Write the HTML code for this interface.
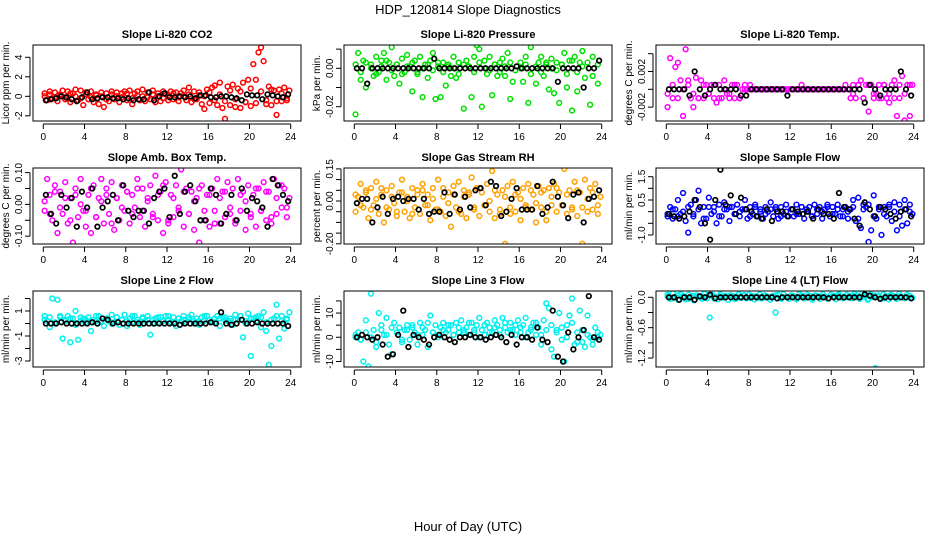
<!DOCTYPE html>
<html><head><meta charset="utf-8"><style>
html,body{margin:0;padding:0;background:#fff;}
svg{display:block;font-family:"Liberation Sans",sans-serif;}
</style></head><body>
<svg id="chart" width="936" height="540" viewBox="0 0 936 540" xmlns="http://www.w3.org/2000/svg">
<rect x="0" y="0" width="936" height="540" fill="#fff"/>
<text x="468" y="14" text-anchor="middle" font-size="13">HDP_120814  Slope Diagnostics</text>
<text x="468" y="531" text-anchor="middle" font-size="13">Hour of Day (UTC)</text>
</svg>
<script>
const xTicks = [0,4,8,12,16,20,24];
const titles = ["Slope Li-820 CO2","Slope Li-820 Pressure","Slope Li-820 Temp.","Slope Amb. Box Temp.","Slope Gas Stream RH","Slope Sample Flow","Slope Line 2 Flow","Slope Line 3 Flow","Slope Line 4 (LT) Flow"];
const yTitles = ["Licor ppm per min.","kPa per min.","degrees C per min.","degrees C per min.","percent per min.","ml/min per min.","ml/min per min.","ml/min per min.","ml/min per min."];
const yTickVals = [[-2,0,2,4],[-0.02,-0.01,0,0.01],[-0.002,0,0.002,0.004],[-0.1,-0.05,0,0.05,0.1],[-0.2,-0.15,-0.1,-0.05,0,0.05,0.1,0.15],[-1,-0.5,0,0.5,1,1.5],[-3,-2,-1,0,1,2],[-10,-5,0,5,10,15],[-1.2,-0.9,-0.6,-0.3,0]];
const yTickLabels = [["-2","0","2","4"],["-0.02","","0.00",""],["-0.002","","0.002",""],["-0.10","","0.00","","0.10"],["-0.20","","","","0.00","","","0.15"],["-1.0","","","0.5","","1.5"],["-3","","-1","","1",""],["-10","","0","","10",""],["-1.2","","-0.6","","0.0"]];

const co2Col = [0.3,-0.4,0.5,-0.2,0.4,-0.5,0.2,0.6,-0.3,0.5,-0.6,0.3,0.7,-0.4,0.6,-0.9,0.4,-0.3,0.5,-0.6,0.2,-0.8,0.4,-1.1,0.3,-0.5,0.5,-0.3,0.4,-0.6,0.3,0.5,-0.4,0.6,-0.8,0.3,0.5,-0.4,0.7,-0.5,0.4,-0.3,0.6,-0.6,0.3,-0.5,0.5,0.3,-0.4,0.5,-0.3,0.4,-0.5,0.3,0.6,-0.4,0.9,-0.6,0.5,-0.3,0.4,-0.8,-1.3,0.7,-0.7,0.9,1.1,-0.9,1.4,-1.2,-2.3,1.0,-0.9,1.2,-1.1,0.8,-1.2,1.4,-0.6,1.7,-1.0,3.3,1.7,4.5,5.0,3.6,-0.8,1.0,-0.9,0.6,-1.9,0.7,-0.5,0.9,-0.4,0.6];
const co2Band = [0,0.2,-0.2,0.1,-0.1,0.3,0,-0.2,0.2,-0.1,0.1,0,-0.3,0.2,0,-0.1,0.3,-0.2,0.1,0,-0.1,0.2,0,-0.2,0.1,0.3,-0.1,0,0.2,-0.3,0.1,0,0.4,-0.4,0.2,-0.5,0.6,-0.3,0.5,-0.6,0.8,-0.7,0.5,-0.4,0.7,-0.5,0.3,-0.2];
const co2Blk = [-0.4,-0.3,-0.2,0,-0.1,-0.3,-0.5,-0.1,0.4,-0.3,-0.2,-0.1,-0.1,-0.2,-0.2,-0.3,-0.2,-0.4,-0.3,-0.3,0.4,-0.4,0,0.3,-0.1,-0.1,0,-0.1,0,-0.2,0.1,0.1,-0.1,-0.1,0,0,-0.1,-0.2,-0.4,0.2,0.1,0.1,-0.3,0.2,0.1,0,-0.1,0.2];
const presCol = [-.024,.008,-.006,.004,-.01,.018,.002,-.004,.006,-.002,.004,.008,-.006,.003,.011,-.004,.002,-.008,.005,-.002,.007,.001,-.012,.004,-.003,.006,-.015,.002,-.005,.004,.008,-.016,.001,-.015,.003,-.009,.002,-.004,.006,-.005,.003,.014,-.021,.004,.001,-.015,.006,.012,.01,-.02,.004,-.003,.006,-.014,.002,-.004,.003,.005,-.004,.008,-.016,-.007,.019,-.04,.003,-.007,.006,-.018,.011,.019,-.008,.003,.006,-.004,.002,-.011,.005,-.013,.003,-.018,.002,.008,-.01,.004,-.022,.006,-.012,.003,.009,-.005,.014,-.019,.006,.015,-.008,-.04];
const presBand = [.002,-.002,.003,0,-.003,.001,.004,-.001,.002,-.003,.001,.003,-.002,0,.002,-.001,.003,-.002,.001,0,-.003,.002,.001,-.002,.003,0,-.001,.002,-.002,.001,.003,-.001,0,.002,-.003,.001,-.002,.003,0,-.001,.002,-.003,.004,-.002,.001,.003,-.004,.002];
const presBlk = [0,0,-.008,0,0,0,0,0,0,0,0,0,0,0,0,.005,0,0,0,0,0,0,0,0,0,0,0,0,0,0,0,.001,0,0,0,0,0,0,0,-.007,0,0,0,0,-.01,0,0,.004];
const tempCol = [-.002,.0035,-.001,.0025,.003,.001,-.003,.0045,.001,-.001,-.002,.0013,-.001,.001,-.001,.0005,-.0005,.0005,-.001,-.0015,.0005,-.001,.001,-.0005,-.001,.0005,-.001,.0005,-.001,0,.0005,0,.0005,0,0,0,0,0,0,0,0,0,0,0,0,0,0,0,0,0,0,0,.0005,0,0,0,0,0,0,0,0,0,0,0,0,0,0,0,0,.0005,0,-.001,.0005,-.001,.0005,.001,-.001,.0005,-.0025,.0005,-.001,-.0005,.0005,-.001,.0005,-.001,-.0015,.0005,.001,-.003,-.001,.0015,-.0035,.0005,-.003,.0005];
const tempBand = [-.0005,.0005,-.001,0,.0005,-.0005,-.001,.0005,-.0005,.0005,-.001,0,-.0005,.0005,-.001,0,0,0,0,0,0,0,0,0,0,0,0,0,0,0,0,0,0,0,0,0,-.0005,.0005,-.001,.0005,-.0005,-.001,.0005,-.0005,-.001,.0005,-.0005,.0005];
const tempBlk = [0,0,0,0,-.0007,.002,0,-.0007,0,.0005,0,0,0,0,-.0007,-.0007,0,0,0,0,0,0,0,-.0007,0,0,0,0,0,0,0,0,0,0,0,0,0,0,-.0015,.0005,0,-.0007,0,0,0,.002,0,-.0007];
const ambCol = [-.02,.08,.03,-.05,.06,-.09,.04,-.03,.07,-.06,.02,-.12,.05,-.04,.08,-.02,-.07,.03,-.09,.06,-.04,.02,.08,-.06,.05,-.03,.07,-.08,.02,-.05,.06,-.02,.04,-.06,.03,-.01,.08,-.04,.05,-.07,.02,.06,-.03,.09,-.05,.04,-.09,.07,-.06,.03,-.04,.06,-.02,.11,-.07,.05,-.03,.04,-.08,.02,-.12,.06,-.05,.03,-.07,.05,-.02,.08,-.06,.04,-.04,.07,-.03,.05,-.06,.08,-.02,.04,-.08,.06,-.04,.03,-.07,.05,-.02,.07,-.05,.04,-.06,.08,-.03,.06,-.01,.05,-.04,.02];
const ambBand = [.01,-.03,.04,-.01,.02,-.05,.03,0,-.02,.05,-.04,.01,.03,-.06,.02,-.01,.04,-.03,.05,-.02,.01,-.04,.03,.06,-.05,.02,-.01,.04,-.03,.01,.05,-.02,.03,-.06,.02,.04,-.01,-.05,.03,.01,-.03,.05,-.02,.04,-.04,.02,.06,-.01];
const ambBlk = [.03,-.03,-.06,.03,-.01,.02,-.07,.04,-.01,.05,-.07,-.01,.01,.03,-.05,.06,-.02,-.04,-.02,-.02,-.06,.02,.04,.05,-.04,.09,-.03,.04,.06,.01,-.05,-.05,.05,.03,-.06,-.03,.03,-.05,.05,-.02,.02,.01,-.01,-.07,.08,.06,.03,.01];
const rhCol = [-.05,.02,.08,-.03,.04,-.08,.06,-.02,.09,-.06,.03,-.1,.05,-.04,.07,-.01,-.07,.04,.1,-.05,.02,-.08,.06,-.03,.05,-.06,.08,-.02,.03,-.09,.06,-.04,.1,-.05,.02,-.07,.04,-.12,.07,-.03,.09,-.06,.05,-.08,.03,.11,-.04,.06,-.07,.04,-.02,.08,-.05,.14,-.08,.03,-.06,.05,-.2,.07,-.03,.09,-.05,.04,-.09,.06,-.02,.08,-.04,.03,-.1,.07,-.03,.05,-.09,.06,-.02,.08,-.05,.04,-.24,.15,-.06,.05,-.03,.09,-.07,.04,-.2,.1,-.05,.06,-.04,.08,-.06,.02];
const rhBand = [.03,-.02,.05,-.04,.01,.06,-.03,.02,-.05,.04,0,-.06,.03,.05,-.02,.01,-.04,.06,-.01,.03,-.05,.02,.04,-.03,.06,-.02,0,.05,-.04,.02,-.06,.03,.01,-.03,.05,-.01,.04,-.05,.02,.06,-.02,.03,-.04,.05,-.03,.01,.04,-.02];
const rhBlk = [-.01,.01,.01,-.1,-.03,.02,-.06,.01,.02,0,.01,.01,-.04,.01,-.06,-.05,-.05,.04,-.06,.03,-.04,.02,-.03,.05,.06,-.02,.09,.07,-.07,-.05,.01,.06,-.04,-.04,-.04,.07,-.06,-.03,.09,.02,-.02,-.08,.03,.04,-.1,.01,.02,.05];
const sampCol = [-.2,.2,-.3,.1,.5,-.1,.8,-.4,-.9,.3,-.2,.5,.9,-.5,.2,-.3,.6,-.1,.2,-.5,.3,-.2,.4,.1,-.4,.2,-.1,.3,-.2,.1,.5,-.3,.2,-.1,.3,-.2,.1,-.3,.2,0,.4,-.2,.1,-.3,.2,-.1,.3,-.2,.1,-.2,.3,-.1,.2,-.3,.1,.2,-.2,.3,-.1,.2,-.3,.1,.3,-.2,.2,-.1,.3,-.2,.1,.2,-.3,.1,.5,-.4,.6,-.7,.3,.2,-1.3,-.8,.7,-.3,.2,-1.0,.2,-.2,.3,-.4,.4,-.8,.3,-.6,.5,-.5,.3,-.1];
const sampBand = [-.1,.1,-.2,0,.2,-.1,.1,-.3,.2,0,-.2,.1,.2,-.1,0,.1,-.2,.2,0,-.1,.1,.2,-.2,0,.1,-.1,.2,0,-.2,.1,0,.2,-.1,.1,-.2,0,.2,-.3,.1,.3,-.2,.1,-.1,.2,0,-.2,.1,0];
const sampBlk = [-.1,-.2,-.3,-.2,0,.5,.2,-.5,-1.2,.5,1.8,.3,.7,-.1,.6,.1,0,-.2,-.3,.1,-.4,0,0,-.2,.1,0,-.1,0,-.3,.1,-.1,-.1,-.3,.8,.2,.1,-.3,-.6,.4,.1,-.2,.2,.1,-.1,-.3,0,.1,-.2];
const line2Col = [.6,.2,-.3,2.0,.1,1.9,.5,-1.2,.3,.6,-1.5,.4,1.0,-1.3,.2,.4,.1,.5,-.6,.3,.2,.6,.1,-.2,.4,.2,.7,.1,.5,-.1,.3,.7,-.2,.4,.1,.6,.3,-.1,.5,.2,.6,-.9,.3,.4,.1,.5,.2,.6,.3,.1,.5,-.2,.4,.2,.6,.1,.3,.7,.2,.4,-.1,.5,.2,.6,.3,.1,.4,.6,-.2,.5,.3,.2,.4,-.1,.7,.3,.6,-1.1,.2,.8,-2.6,.4,.5,.6,-.3,.9,-.6,-3.3,-1.8,.4,1.5,-1.2,.6,-.4,.3,.9];
const line2Band = [.3,.5,0,.6,.2,.4,-.1,.5,.3,.1,.6,.2,.4,0,.5,.3,.2,.6,.1,.4,.3,0,.5,.2,.6,.1,.4,.3,.5,0,.2,.6,.3,.1,.4,.5,.2,.3,.6,0,.4,.2,.5,.1,.3,.6,.2,.4];
const line2Blk = [0,0,0,.1,0,0,0,0,0,.1,0,.4,.3,0,.1,0,0,0,0,0,0,0,0,0,0,0,-.1,0,0,0,0,0,.1,0,.9,0,-.1,0,.3,0,0,.1,0,0,0,0,0,-.2];
const line3Col = [0,2,-1,-10,7,-12,18,3,-4,10,5,1,8,-3,-7,6,2,4,-2,3,5,-1,4,2,-3,6,1,3,-4,9,2,5,1,4,6,2,3,5,1,6,2,7,3,4,1,6,2,5,8,3,1,6,4,2,7,5,3,8,4,2,6,3,1,7,4,5,8,2,3,6,1,4,-3,7,14,12,-5,-8,3,10,-1,-10,5,9,16,-3,2,11,-2,-4,9,0,-1,4,2,1];
const line3Band = [1,-1,2,0,-2,3,1,4,2,-1,3,5,1,4,6,2,0,3,5,1,4,2,6,3,0,5,2,4,1,6,3,5,2,0,4,6,1,3,5,2,4,0,6,-2,3,1,-3,0];
const line3Blk = [0,1,0,-1,0,-3,-8,-7,1,11,-4,1,0,-1,-3,0,1,0,-1,-2,0,0,1,0,0,-1,0,1,0,-2,1,-3,0,0,-1,4,-1,-2,11,-8,-10,2,-5,0,3,17,0,-1];
const line4Col = [.05,-.03,.08,0,-.05,.06,.02,-.04,.05,.01,-.06,.04,.02,-.03,.07,-.02,-.4,.05,.01,-.04,.06,-.01,.03,-.05,.04,.02,-.03,.06,-.01,.04,-.02,.05,.03,-.04,.02,.06,-.02,.04,.01,-.05,.03,-.3,.05,-.02,.06,.01,-.03,.04,.02,-.04,.06,.01,-.02,.05,.03,-.05,.04,.02,-.03,.06,.01,-.02,.05,.03,-.04,.06,.02,-.01,.05,.03,-.02,.07,.04,-.03,.08,.02,-.05,.06,.01,-1.4,.04,-.02,.06,.03,-.04,.05,.02,-.03,.07,.01,-.02,.05,.03,-.01];
const line4Band = [.02,-.02,.04,0,-.03,.03,.01,-.01,.04,-.02,.02,0,.03,-.03,.01,.04,-.01,.02,-.02,.03,0,.04,-.03,.01,.02,-.02,.04,0,-.01,.03,.01,-.03,.02,.04,-.02,0,.03,-.01,.02,-.03,.04,.01,-.02,.03,0,.02,-.01,.03];
const line4Blk = [0,0,-.05,0,0,-.05,.02,0,.05,-.02,0,0,0,0,0,0,0,0,0,0,0,-.02,0,0,0,0,0,0,0,0,0,-.02,0,0,0,0,0,0,.06,.03,0,-.03,0,0,0,0,0,-.02];

const colorSeries = [co2Col,presCol,tempCol,ambCol,rhCol,sampCol,line2Col,line3Col,line4Col];
const bandSeries = [co2Band,presBand,tempBand,ambBand,rhBand,sampBand,line2Band,line3Band,line4Band];
const blackSeries = [co2Blk,presBlk,tempBlk,ambBlk,rhBlk,sampBlk,line2Blk,line3Blk,line4Blk];

const layout = {
  lefts:[33,344,656], tops:[45,168,291], w:268, h:76,
  ydom:[[-2.53,5.26],[-0.02745,0.01214],[-0.003562,0.004978],[-0.1246,0.1145],[-0.2009,0.1542],[-1.388,1.873],[-3.48,2.6],[-12.27,19.1],[-1.377,0.1245]],
  colors:["#ff0000","#00e000","#ff00ff","#ff00ff","#ffa000","#0000ff","#00f0f0","#00f0f0","#00f0f0"],
  slugs:["co2","pressure","li820-temp","amb-box-temp","gas-stream-rh","sample-flow","line2-flow","line3-flow","line4-flow"]
};
const NS = "http://www.w3.org/2000/svg";
const svg = document.getElementById("chart");
function mk(tag, attrs, parent){const e=document.createElementNS(NS,tag);for(const k in attrs)e.setAttribute(k,attrs[k]);(parent||svg).appendChild(e);return e;}

for(let p=0;p<9;p++){
  const L=layout.lefts[p%3], T=layout.tops[Math.floor(p/3)], W=layout.w, H=layout.h;
  const slug=layout.slugs[p];
  const g=mk("g",{});
  
  
  const dom=layout.ydom[p];
  const xs=t=>L+10.3+t*(W-20.6)/24;
  const ys=v=>T+H-(v-dom[0])/(dom[1]-dom[0])*H;
  const tt=mk("text",{x:L+W/2,y:T-7,"text-anchor":"middle","font-size":"11","font-weight":"bold"},g);
  tt.textContent=titles[p];
  
  
  const cp=mk("clipPath",{id:"c"+p},g);
  mk("rect",{x:L,y:T,width:W,height:H},cp);
  const pts=mk("g",{"clip-path":"url(#c"+p+")",fill:"none","stroke-width":"1.5"},g);
  
  
  const bd=bandSeries[p];
  bd.forEach((v,i)=>{
    const c=mk("circle",{cx:xs(24*(i+0.25)/bd.length),cy:ys(v),r:2.4,stroke:layout.colors[p]},pts);
    
    
  });
  const cs=colorSeries[p];
  cs.forEach((v,i)=>{
    const c=mk("circle",{cx:xs(24*(i+0.5)/cs.length),cy:ys(v),r:2.4,stroke:layout.colors[p]},pts);
    
    
  });
  const bs=blackSeries[p];
  bs.forEach((v,i)=>{
    const c=mk("circle",{cx:xs(24*(i+0.5)/bs.length),cy:ys(v),r:2.3,stroke:"#000","stroke-width":"1.7"},pts);
    
    
  });
  const box=mk("rect",{x:L,y:T,width:W,height:H,fill:"none",stroke:"#000","stroke-width":"1"},g);
  
  
  const xa=mk("g",{},g);
  
  
  mk("line",{x1:xs(0),x2:xs(24),y1:T+H+3,y2:T+H+3,stroke:"#000"},xa);
  xTicks.forEach(t=>{
    mk("line",{x1:xs(t),x2:xs(t),y1:T+H+3,y2:T+H+8,stroke:"#000"},xa);
    const lb=mk("text",{x:xs(t),y:T+H+19,"text-anchor":"middle","font-size":"10"},xa);
    lb.textContent=t;
    
    
  });
  const ya=mk("g",{},g);
  
  
  const tv=yTickVals[p], tl=yTickLabels[p];
  mk("line",{x1:L-3,x2:L-3,y1:ys(tv[0]),y2:ys(tv[tv.length-1]),stroke:"#000"},ya);
  tv.forEach((v,i)=>{
    const y=ys(v);
    mk("line",{x1:L-3,x2:L-8,y1:y,y2:y,stroke:"#000"},ya);
    if(tl[i]){
      const lb=mk("text",{x:0,y:0,"text-anchor":"middle","font-size":"10",transform:"translate("+(L-11)+","+y+") rotate(-90)"},ya);
      lb.textContent=tl[i];
      
      
    }
  });
  const yt=mk("text",{x:0,y:0,"text-anchor":"middle","font-size":"10",transform:"translate("+(L-24)+","+(T+H/2)+") rotate(-90)"},g);
  yt.textContent=yTitles[p];
  
  
}
</script>
</body></html>
